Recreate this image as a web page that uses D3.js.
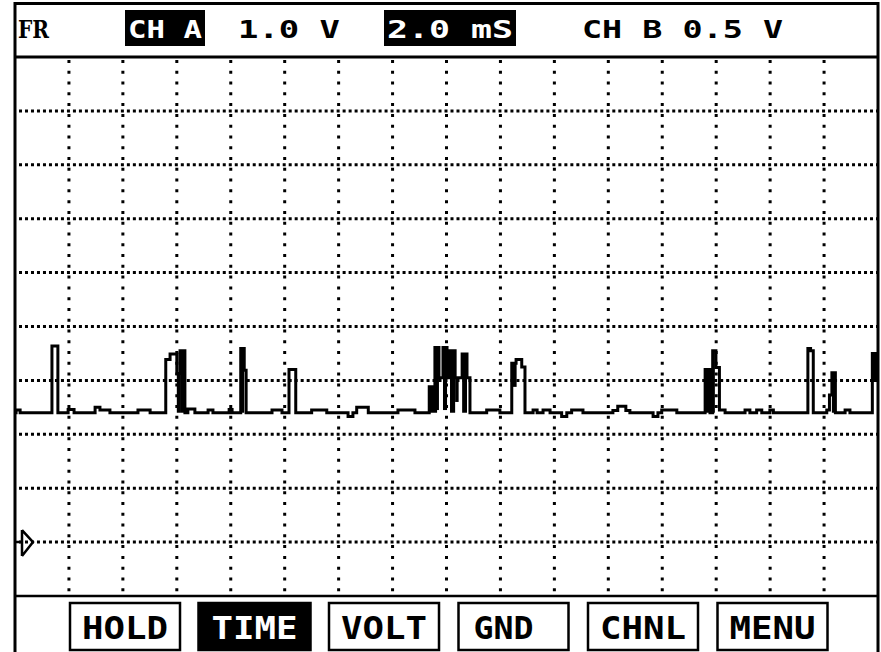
<!DOCTYPE html>
<html>
<head>
<meta charset="utf-8">
<script src="https://cdn.jsdelivr.net/npm/d3@7"></script>
<style>
  body { margin: 0; background: #fff; }
  svg { display: block; }
</style>
</head>
<body>
<div id="scope"></div>
<script>
/* channel A trace, [time ms, volts], held until next sample */
var traceA = [
  [0, 2.40], [0.04, 2.45], [0.19, 2.40], [1.37, 3.64], [1.59, 2.40], [1.97, 2.46], [2.19, 2.40],
  [2.97, 2.50], [3.15, 2.45], [3.52, 2.40], [4.56, 2.45], [5.01, 2.40], [5.59, 3.39], [5.75, 3.49],
  [6.00, 3.13], [6.12, 3.55], [6.30, 2.40], [6.41, 2.47], [6.67, 2.40], [7.16, 2.45], [7.34, 2.40],
  [7.94, 2.46], [8.05, 2.40], [8.37, 3.59], [8.50, 3.19], [8.57, 2.40], [9.53, 2.45], [9.90, 2.40],
  [10.16, 3.20], [10.41, 2.40], [11.00, 2.45], [11.56, 2.40], [12.35, 2.33], [12.53, 2.40],
  [12.67, 2.50], [13.10, 2.40], [14.20, 2.45], [14.83, 2.40], [15.36, 2.88], [15.57, 3.61],
  [15.72, 3.05], [15.87, 3.61], [16.02, 3.05], [16.13, 3.55], [16.32, 3.05], [16.58, 3.49],
  [16.76, 3.05], [16.87, 2.40], [17.49, 2.45], [17.98, 2.40], [18.42, 3.32], [18.58, 3.39],
  [18.79, 3.25], [18.91, 2.40], [19.21, 2.45], [19.36, 2.40], [19.58, 2.45], [19.84, 2.40],
  [20.27, 2.33], [20.46, 2.40], [20.64, 2.45], [21.06, 2.40], [22.17, 2.44], [22.35, 2.52],
  [22.65, 2.44], [22.80, 2.40], [23.66, 2.33], [23.84, 2.40], [23.98, 2.45], [24.54, 2.40],
  [25.59, 3.20], [25.77, 2.40], [25.87, 3.55], [25.99, 3.24], [26.12, 2.45], [26.33, 2.40],
  [27.07, 2.45], [27.25, 2.40], [27.50, 2.45], [27.69, 2.40], [27.99, 2.45], [28.12, 2.40],
  [29.40, 3.59], [29.50, 3.55], [29.60, 2.40], [30.10, 2.45], [30.20, 2.73], [30.29, 3.14],
  [30.42, 2.40], [30.78, 2.45], [30.96, 2.40], [31.79, 3.50], [32, 3.50]
];

/* fast toggling shows as solid bands: [t0, t1, vLow, vHigh] */
var bursts = [
  [6.00, 6.12, 2.40, 3.13], [6.12, 6.30, 2.40, 3.55], [8.37, 8.50, 2.40, 3.59],
  [15.36, 15.65, 2.40, 2.88], [15.57, 15.72, 2.45, 3.61], [15.87, 16.02, 2.45, 3.61],
  [16.13, 16.32, 2.40, 3.55], [16.32, 16.45, 2.60, 3.05], [16.58, 16.76, 2.40, 3.49],
  [18.42, 18.60, 2.88, 3.32], [25.59, 25.77, 2.40, 3.20], [25.87, 25.95, 2.40, 3.55],
  [30.29, 30.42, 2.40, 3.14], [31.79, 32.00, 2.97, 3.50]
];

var timeDomain = [0, 32];   // 2.0 mS / div, 16 div
var voltDomain = [-1, 9];   // 1.0 V / div, 10 div
var timeTicks = d3.range(2, 32, 2);
var voltTicks = d3.range(0, 9, 1);

var headerItems = [
  { label: "FR",          x: 18,  w: 31,  inverse: false, serif: true },
  { label: "CH A",        x: 128, w: 74,  inverse: true },
  { label: "1.0 V",       x: 238, w: 102, inverse: false },
  { label: "2.0 mS",      x: 387, w: 126, inverse: true },
  { label: "CH B 0.5 V",  x: 582, w: 201, inverse: false }
];
var buttons = ["HOLD", "TIME", "VOLT", "GND", "CHNL", "MENU"];
var activeButton = "TIME";

function drawScope(htmlID) {

    var width = 881,
        height = 652;

    var pLeft = 15, pRight = 878, pTop = 57, pBottom = 596;

    var svg = d3.select(htmlID)
        .append("svg")
        .attr("width", width)
        .attr("height", height);

    var x = d3.scaleLinear().domain(timeDomain).range([pLeft, pRight]);
    var y = d3.scaleLinear().domain(voltDomain).range([pBottom, pTop]);

    /* outer frame */
    svg.append("path")
        .attr("d", "M" + pLeft + "," + height + "V3.5H" + pRight + "V" + height)
        .attr("fill", "none")
        .attr("stroke", "#000")
        .attr("stroke-width", 3);

    svg.append("line")
        .attr("x1", pLeft).attr("x2", pRight)
        .attr("y1", pTop).attr("y2", pTop)
        .attr("stroke", "#000").attr("stroke-width", 3);

    svg.append("line")
        .attr("x1", pLeft).attr("x2", pRight)
        .attr("y1", pBottom).attr("y2", pBottom)
        .attr("stroke", "#000").attr("stroke-width", 2.5);

    /* dotted grid */
    var stepX = x(2) - x(0), stepY = y(0) - y(1);

    svg.append("g")
        .selectAll("line")
        .data(timeTicks)
        .enter().append("line")
        .attr("x1", function(d) { return x(d); })
        .attr("x2", function(d) { return x(d); })
        .attr("y1", pTop + 3)
        .attr("y2", pBottom)
        .attr("stroke", "#000")
        .attr("stroke-width", 3)
        .attr("stroke-dasharray", "3," + (stepY / 5 - 3));

    svg.append("g")
        .selectAll("line")
        .data(voltTicks)
        .enter().append("line")
        .attr("x1", pLeft + 4)
        .attr("x2", pRight)
        .attr("y1", function(d) { return y(d); })
        .attr("y2", function(d) { return y(d); })
        .attr("stroke", "#000")
        .attr("stroke-width", 3)
        .attr("stroke-dasharray", "3," + (stepX / 9 - 3));

    /* ground marker */
    var g0 = y(0);
    svg.append("path")
        .attr("d", "M" + (pLeft + 1) + "," + g0 + "H22M22," + (g0 - 12) + "V" + (g0 + 14) +
                   "M22," + (g0 - 12) + "L33," + g0 + "L22," + (g0 + 14))
        .attr("fill", "none")
        .attr("stroke", "#000")
        .attr("stroke-width", 2.5);

    /* bursts */
    svg.append("g")
        .selectAll("rect")
        .data(bursts)
        .enter().append("rect")
        .attr("x", function(d) { return x(d[0]); })
        .attr("width", function(d) { return x(d[1]) - x(d[0]); })
        .attr("y", function(d) { return y(d[3]); })
        .attr("height", function(d) { return y(d[2]) - y(d[3]); })
        .attr("fill", "#000");

    /* trace */
    var line = d3.line()
        .x(function(d) { return x(d[0]); })
        .y(function(d) { return y(d[1]); })
        .curve(d3.curveStepAfter);

    svg.append("path")
        .datum(traceA)
        .attr("d", line)
        .attr("fill", "none")
        .attr("stroke", "#000")
        .attr("stroke-width", 3);

    /* header */
    var header = svg.append("g");
    headerItems.forEach(function(d) {
        if (d.inverse) {
            header.append("rect")
                .attr("x", d.x - 3).attr("y", 10)
                .attr("width", d.w + 6).attr("height", 36)
                .attr("fill", "#000");
        }
        header.append("text")
            .attr("x", d.x)
            .attr("y", 38)
            .attr("textLength", d.w)
            .attr("lengthAdjust", "spacingAndGlyphs")
            .attr("font-family", d.serif ? "DejaVu Serif" : "DejaVu Sans Mono")
            .attr("font-weight", "bold")
            .attr("font-size", d.serif ? 25 : 24)
            .attr("fill", d.inverse ? "#fff" : "#000")
            .text(d.label);
    });

    /* soft buttons */
    var bx = d3.scaleBand().domain(buttons).range([70, 847]);
    var bw = 110;
    var btn = svg.append("g")
        .selectAll("g")
        .data(buttons)
        .enter().append("g")
        .attr("transform", function(d) { return "translate(" + bx(d) + ",0)"; });

    btn.append("rect")
        .attr("x", function(d) { return d == activeButton ? -1 : 0; })
        .attr("y", 603)
        .attr("width", function(d) { return d == activeButton ? bw + 2 : bw; })
        .attr("height", 47)
        .attr("fill", function(d) { return d == activeButton ? "#000" : "#fff"; })
        .attr("stroke", "#000")
        .attr("stroke-width", 2.5);

    btn.append("text")
        .attr("x", function(d) { return d == "GND" ? 15 : 12; })
        .attr("y", 639)
        .attr("textLength", function(d) { return d == "GND" ? 60 : 86; })
        .attr("lengthAdjust", "spacingAndGlyphs")
        .attr("font-family", "DejaVu Sans Mono")
        .attr("font-weight", "bold")
        .attr("font-size", 32)
        .attr("fill", function(d) { return d == activeButton ? "#fff" : "#000"; })
        .text(function(d) { return d; });
}

drawScope("#scope");
</script>
</body>
</html>
